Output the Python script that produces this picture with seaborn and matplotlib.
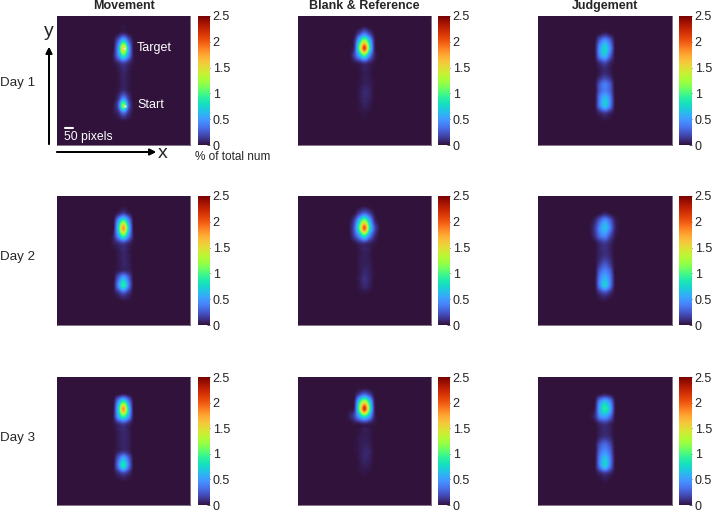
import numpy as np
import seaborn as sns
import matplotlib.pyplot as plt

W, H = 713, 512

columns = ["Movement", "Blank & Reference", "Judgement"]
days = ["Day 1", "Day 2", "Day 3"]
cbar_ticks = [0, 0.5, 1, 1.5, 2, 2.5]
cbar_labels = ["0", "0.5", "1", "1.5", "2", "2.5"]

# % of total num read by eye, central part of each panel only (the rest is 0)
movement_1 = [
    [0, 0, 0, .02, 0, 0, 0],
    [0, 0, .03, .1, .03, 0, 0],
    [0, .02, .3, .75, .3, .02, 0],
    [0, .03, .55, 1.6, .6, .03, 0],
    [0, .06, .45, .95, .45, .04, 0],
    [0, .02, .1, .2, .1, .02, 0],
    [0, 0, .03, .08, .04, 0, 0],
    [0, 0, .02, .06, .03, 0, 0],
    [0, 0, .02, .06, .03, 0, 0],
    [0, 0, .03, .1, .04, 0, 0],
    [0, 0, .12, .45, .15, 0, 0],
    [0, .03, .28, 1.2, .3, .02, 0],
    [0, .02, .1, .35, .12, .01, 0],
    [0, 0, .01, .04, .02, 0, 0],
    [0, 0, 0, 0, 0, 0, 0],
]
blank_1 = [
    [0, 0, 0, .03, 0, 0, 0],
    [0, .02, .2, .4, .2, .02, 0],
    [0, .1, .75, 1.3, .7, .08, 0],
    [.01, .15, 1.1, 2.1, .95, .1, 0],
    [0, .2, .6, 1.0, .45, .08, 0],
    [0, .03, .08, .15, .08, .02, 0],
    [0, 0, .02, .05, .03, 0, 0],
    [0, 0, .01, .04, .03, 0, 0],
    [0, 0, .02, .05, .04, .01, 0],
    [0, 0, .03, .08, .06, .01, 0],
    [0, 0, .03, .07, .05, .01, 0],
    [0, 0, .02, .05, .03, 0, 0],
    [0, 0, .01, .02, .01, 0, 0],
    [0, 0, 0, .01, 0, 0, 0],
    [0, 0, 0, 0, 0, 0, 0],
]
judgement_1 = [
    [0, 0, 0, 0, 0, 0, 0],
    [0, 0, .03, .08, .03, 0, 0],
    [0, .02, .3, .5, .3, .02, 0],
    [0, .04, .5, .75, .45, .03, 0],
    [0, .03, .45, .65, .3, .02, 0],
    [0, .01, .12, .2, .08, .01, 0],
    [0, 0, .04, .08, .04, 0, 0],
    [0, 0, .08, .15, .08, 0, 0],
    [0, .01, .25, .38, .25, .01, 0],
    [0, .01, .28, .4, .28, .01, 0],
    [0, .02, .4, .65, .4, .02, 0],
    [0, .02, .4, .7, .4, .02, 0],
    [0, .01, .08, .15, .08, .01, 0],
    [0, 0, .01, .02, .01, 0, 0],
    [0, 0, 0, 0, 0, 0, 0],
]
movement_2 = [
    [0, 0, 0, .02, 0, 0, 0],
    [0, 0, .08, .2, .08, 0, 0],
    [0, .02, .55, 1.05, .5, .02, 0],
    [0, .03, .8, 1.8, .75, .03, 0],
    [0, .08, .55, 1.05, .5, .05, 0],
    [0, .04, .12, .2, .1, .02, 0],
    [0, .01, .04, .08, .04, 0, 0],
    [0, 0, .03, .07, .04, 0, 0],
    [0, 0, .03, .07, .05, 0, 0],
    [0, .01, .05, .1, .07, .01, 0],
    [0, .01, .3, .6, .3, .01, 0],
    [0, .02, .45, .9, .4, .02, 0],
    [0, .02, .12, .25, .12, .01, 0],
    [0, 0, .01, .03, .02, 0, 0],
    [0, 0, 0, 0, 0, 0, 0],
]
blank_2 = [
    [0, 0, .01, .03, .01, 0, 0],
    [0, .03, .2, .35, .2, .03, 0],
    [.02, .2, .75, 1.25, .65, .12, .01],
    [.03, .3, 1.05, 2.0, .9, .25, .03],
    [.02, .2, .55, .95, .45, .12, .01],
    [0, .03, .1, .15, .08, .03, 0],
    [0, 0, .03, .06, .04, 0, 0],
    [0, 0, .03, .05, .03, 0, 0],
    [0, 0, .03, .05, .04, 0, 0],
    [0, 0, .03, .07, .05, .01, 0],
    [0, 0, .04, .1, .06, .01, 0],
    [0, 0, .03, .08, .05, 0, 0],
    [0, 0, .01, .02, .01, 0, 0],
    [0, 0, 0, 0, 0, 0, 0],
    [0, 0, 0, 0, 0, 0, 0],
]
judgement_2 = [
    [0, 0, 0, 0, 0, 0, 0],
    [0, 0, .03, .08, .03, 0, 0],
    [.01, .08, .3, .5, .3, .06, .01],
    [.02, .15, .45, .65, .4, .08, .01],
    [.01, .12, .35, .45, .22, .04, 0],
    [0, .02, .1, .15, .08, .01, 0],
    [0, .01, .07, .1, .06, 0, 0],
    [0, .01, .07, .12, .08, 0, 0],
    [0, .01, .14, .25, .14, .01, 0],
    [0, .01, .28, .42, .28, .01, 0],
    [0, .02, .4, .6, .38, .02, 0],
    [0, .02, .42, .72, .38, .02, 0],
    [0, .01, .12, .2, .1, .01, 0],
    [0, 0, .02, .03, .01, 0, 0],
    [0, 0, 0, 0, 0, 0, 0],
]
movement_3 = [
    [0, 0, 0, 0, 0, 0, 0],
    [0, 0, .03, .08, .03, 0, 0],
    [0, .02, .5, .95, .45, .02, 0],
    [0, .04, .75, 1.8, .75, .03, 0],
    [0, .06, .6, 1.0, .55, .04, 0],
    [0, .02, .12, .2, .1, .01, 0],
    [0, .01, .05, .08, .05, 0, 0],
    [0, 0, .04, .07, .05, 0, 0],
    [0, 0, .04, .07, .05, 0, 0],
    [0, .01, .06, .12, .07, 0, 0],
    [0, .01, .3, .6, .3, .01, 0],
    [0, .02, .4, .85, .38, .02, 0],
    [0, .01, .1, .2, .1, .01, 0],
    [0, 0, .01, .03, .01, 0, 0],
    [0, 0, 0, 0, 0, 0, 0],
]
blank_3 = [
    [0, 0, 0, 0, 0, 0, 0],
    [0, .02, .2, .35, .2, .02, 0],
    [0, .08, .85, 1.4, .8, .08, 0],
    [.01, .12, 1.1, 2.15, 1.05, .1, 0],
    [.05, .2, .6, .9, .55, .08, 0],
    [0, .03, .06, .1, .06, .02, 0],
    [0, 0, .02, .04, .03, 0, 0],
    [0, .01, .03, .04, .03, 0, 0],
    [0, .01, .03, .05, .04, 0, 0],
    [0, .01, .03, .07, .06, .01, 0],
    [0, 0, .03, .07, .05, 0, 0],
    [0, 0, .02, .04, .03, 0, 0],
    [0, 0, .01, .02, .01, 0, 0],
    [0, 0, 0, 0, 0, 0, 0],
    [0, 0, 0, 0, 0, 0, 0],
]
judgement_3 = [
    [0, 0, 0, 0, 0, 0, 0],
    [0, 0, .04, .08, .04, 0, 0],
    [0, .03, .45, .65, .45, .04, 0],
    [0, .06, .6, .9, .6, .05, 0],
    [.01, .1, .45, .55, .35, .03, 0],
    [0, .01, .1, .14, .08, .01, 0],
    [0, 0, .05, .08, .05, 0, 0],
    [0, 0, .08, .12, .08, 0, 0],
    [0, .01, .22, .32, .2, .01, 0],
    [0, .01, .32, .45, .3, .01, 0],
    [0, .02, .42, .68, .4, .02, 0],
    [0, .02, .4, .72, .38, .02, 0],
    [0, .01, .08, .15, .08, .01, 0],
    [0, 0, .01, .03, .01, 0, 0],
    [0, 0, 0, 0, 0, 0, 0],
]

panels = [
    [movement_1, blank_1, judgement_1],
    [movement_2, blank_2, judgement_2],
    [movement_3, blank_3, judgement_3],
]

sns.set_theme(style="white")
plt.rcParams["font.family"] = ["Liberation Sans", "DejaVu Sans"]
turbo = sns.color_palette("turbo", as_cmap=True)

fig = plt.figure(figsize=(W / 100, H / 100), dpi=100)


def box(x0, y0, x1, y1):
    # pixel box (from top left) to figure fractions
    return [x0 / W, 1 - y1 / H, (x1 - x0) / W, (y1 - y0) / H]


def label(x, y, s, **kw):
    kw.setdefault("fontsize", 8.2)
    kw.setdefault("va", "center")
    fig.text(x / W, 1 - y / H, s, **kw)


col_x = [(57, 190, 198, 210), (298, 431, 438, 450), (538, 672, 679, 692)]
row_y = [(16, 145), (196, 325), (377, 505)]
n_rows, n_cols = 18, 27

for r, (y0, y1) in enumerate(row_y):
    for c, (x0, x1, cx0, cx1) in enumerate(col_x):
        ax = fig.add_axes(box(x0, y0, x1, y1))
        cax = fig.add_axes(box(cx0, y0, cx1, y1))
        grid = np.zeros((n_rows, n_cols))
        grid[1:16, 10:17] = panels[r][c]
        sns.heatmap(grid, ax=ax, cbar_ax=cax, cmap=turbo, vmin=0, vmax=2.5,
                    xticklabels=False, yticklabels=False,
                    cbar_kws={"ticks": cbar_ticks})
        # same values again, smoothed on screen (above the blocky mesh)
        ax.imshow(grid, cmap=turbo, vmin=0, vmax=2.5, aspect="auto", zorder=3,
                  interpolation="catrom", extent=(0, n_cols, n_rows, 0))
        ax.set_xlim(0, n_cols)
        ax.set_ylim(n_rows, 0)
        for s in ax.spines.values():
            s.set_visible(True)
            s.set_color("#6b5a70")
            s.set_linewidth(0.6)
        cax.set_yticklabels(cbar_labels)
        cax.tick_params(length=2, width=0.5, direction="in", labelsize=9, pad=2,
                        colors="#222222")
        for s in cax.spines.values():
            s.set_visible(False)
        if r == 0 and c == 0:
            # pale dots at the centre of target and start
            ax.plot([13.7, 13.8], [4.46, 12.5], ls="none", marker="s", ms=1.4,
                    mec="none", mfc="#f4f0d8", zorder=4)

for c, name in enumerate(columns):
    x0, x1 = col_x[c][:2]
    label((x0 + x1) / 2, 6, name, ha="center", fontweight="bold", fontsize=9)

for day, y in zip(days, [83, 257, 438]):
    label(0, y, day, fontsize=9.6)

# annotations of the first panel
label(137, 48, "Target", color="white", fontsize=9)
label(137, 105, "Start", color="white", fontsize=9)
label(64, 137, "50 pixels", color="white", fontsize=8.8)
fig.add_artist(plt.Line2D([65 / W, 73 / W], [1 - 128 / H, 1 - 128 / H], color="white", lw=1.5))
label(195, 157, "% of total num", fontsize=8.5)
label(49, 32, "y", ha="center", fontsize=14)
label(163, 153, "x", ha="center", fontsize=14)

for start, end in [((49, 144), (49, 47)), ((57, 152), (156, 152))]:
    fig.add_artist(plt.annotate(
        "", xy=(end[0] / W, 1 - end[1] / H), xytext=(start[0] / W, 1 - start[1] / H),
        xycoords="figure fraction", textcoords="figure fraction",
        arrowprops=dict(arrowstyle="-|>", color="black", lw=1.3, mutation_scale=9,
                        shrinkA=0, shrinkB=0)))

fig.savefig("out.png", dpi=100)
